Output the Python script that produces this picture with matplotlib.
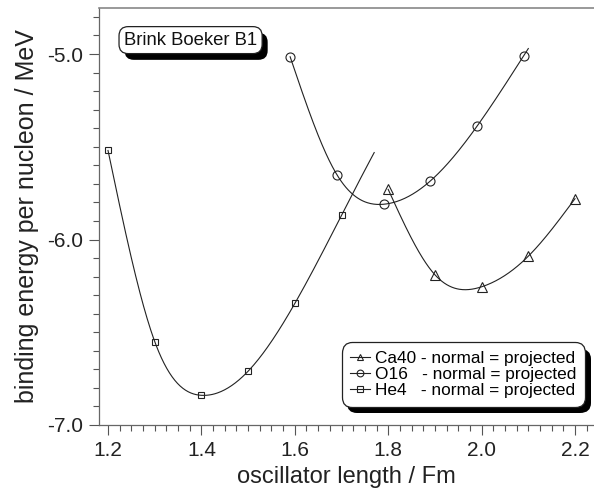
import numpy as np
import matplotlib
matplotlib.use("Agg")
import matplotlib.pyplot as plt
import matplotlib.patheffects as pe
from matplotlib.lines import Line2D
from matplotlib.ticker import MultipleLocator, FormatStrFormatter

plt.rcParams['font.family'] = ['Liberation Sans', 'DejaVu Sans']

# Ca40 - triangles
ca_x = [1.8, 1.9, 2.0, 2.1, 2.2]
ca_y = [-5.73, -6.19, -6.255, -6.09, -5.78]
# O16 - circles
o_x = [1.59, 1.69, 1.79, 1.89, 1.99, 2.09]
o_y = [-5.015, -5.65, -5.81, -5.685, -5.39, -5.01]
# He4 - squares
he_x = [1.2, 1.3, 1.4, 1.5, 1.6, 1.7]
he_y = [-5.52, -6.55, -6.84, -6.71, -6.345, -5.87]

# where each smooth curve stops
ca_end = 2.2
o_end = 2.10
he_end = 1.77

labels = ["Ca40 - normal = projected",
          "O16   - normal = projected",
          "He4   - normal = projected"]


def spline(x, y, x_end, n=300):
    """ natural cubic spline through the points, last piece extended to x_end """
    x = np.asarray(x, float)
    y = np.asarray(y, float)
    h = np.diff(x)
    m = len(x)
    A = np.zeros((m, m))
    r = np.zeros(m)
    A[0, 0] = A[-1, -1] = 1
    for i in range(1, m - 1):
        A[i, i - 1] = h[i - 1]
        A[i, i] = 2 * (h[i - 1] + h[i])
        A[i, i + 1] = h[i]
        r[i] = 6 * ((y[i + 1] - y[i]) / h[i] - (y[i] - y[i - 1]) / h[i - 1])
    M = np.linalg.solve(A, r)
    xs = np.linspace(x[0], x_end, n)
    k = np.clip(np.searchsorted(x, xs) - 1, 0, m - 2)
    t0 = xs - x[k]
    t1 = x[k + 1] - xs
    hk = h[k]
    ys = ((M[k] * t1 ** 3 + M[k + 1] * t0 ** 3) / (6 * hk)
          + (y[k] / hk - M[k] * hk / 6) * t1
          + (y[k + 1] / hk - M[k + 1] * hk / 6) * t0)
    return xs, ys


fig = plt.figure(figsize=(5.94, 4.93), dpi=100)
ax = fig.add_axes([99 / 594, 68 / 493, 495 / 594, 417 / 493])

series = [(ca_x, ca_y, ca_end, '^', 6.5),
          (o_x, o_y, o_end, 'o', 6.5),
          (he_x, he_y, he_end, 's', 5)]
handles = []
for (x, y, xe, mk, ms) in series:
    xs, ys = spline(x, y, xe)
    ax.plot(xs, ys, color='#222222', lw=0.8)
    ax.plot(x, y, ls='none', marker=mk, ms=ms, mfc='none', mec='#222222', mew=0.8)
    handles.append(Line2D([], [], color='#222222', lw=0.8, marker=mk, ms=ms * 0.75,
                          mfc='none', mec='#222222', mew=0.8))

ax.set_xlim(1.1807, 2.2407)
ax.set_ylim(-7.0, -4.752)

ax.xaxis.set_major_locator(MultipleLocator(0.2))
ax.xaxis.set_minor_locator(MultipleLocator(0.025))
ax.yaxis.set_major_locator(MultipleLocator(1.0))
ax.yaxis.set_minor_locator(MultipleLocator(0.1))
ax.xaxis.set_major_formatter(FormatStrFormatter('%.1f'))
ax.yaxis.set_major_formatter(FormatStrFormatter('%.1f'))

ax.tick_params(which='major', direction='out', length=7.5, width=0.8,
               color='#555555', labelsize=15, labelcolor='#222222')
ax.tick_params(which='minor', direction='out', length=4.3, width=0.8, color='#555555')
ax.tick_params(axis='x', which='major', pad=4)
ax.tick_params(axis='y', which='major', pad=4)

for s in ['left', 'bottom']:
    ax.spines[s].set_color('#666666')
    ax.spines[s].set_linewidth(0.9)
ax.spines['top'].set_color('#888888')
ax.spines['top'].set_linewidth(1.2)
ax.spines['right'].set_visible(False)

ax.set_xlabel("oscillator length / Fm", fontsize=17, color='#222222', labelpad=4)
ax.set_ylabel("binding energy per nucleon / MeV", fontsize=18, color='#222222', labelpad=6)

shadow = [pe.SimplePatchShadow(offset=(4, -4.5), shadow_rgbFace='black', alpha=1),
          pe.Normal()]

title = ax.text(0.185, 0.923, "Brink Boeker B1", transform=ax.transAxes,
                fontsize=13.3, ha='center', va='center', color='#111111',
                bbox=dict(boxstyle='round,pad=0.27,rounding_size=0.5',
                          fc='white', ec='#222222', lw=0.9))
title.get_bbox_patch().set_path_effects(shadow)

leg = ax.legend(handles, labels, loc='lower right', bbox_to_anchor=(0.982, 0.043),
                borderaxespad=0, fontsize=12.4, frameon=True, fancybox=True,
                handlelength=1.15, handletextpad=0.3, labelspacing=0.07,
                borderpad=0.5)
frame = leg.get_frame()
frame.set_boxstyle('round,pad=0,rounding_size=0.6')
frame.set_edgecolor('#222222')
frame.set_linewidth(0.9)
frame.set_alpha(1)
frame.set_path_effects(shadow)

fig.savefig("out.png", dpi=100)
